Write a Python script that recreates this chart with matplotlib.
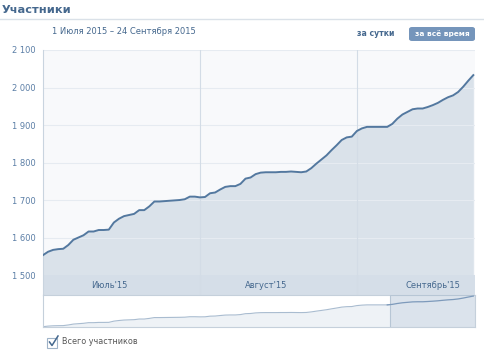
# VK community stats: total members, 1 Jul - 24 Sep 2015

import matplotlib.pyplot as plt
import matplotlib.dates as mdates
from matplotlib.patches import FancyBboxPatch, Rectangle
import pandas as pd

# Data
dates = pd.date_range('2015-07-01', '2015-09-24', freq='D')
members = [1553, 1562, 1567, 1569, 1570, 1580, 1594, 1600, 1606, 1616,
           1616, 1620, 1620, 1621, 1640, 1650, 1657, 1660, 1663, 1673,
           1673, 1683, 1696, 1696, 1697, 1698, 1699, 1700, 1702, 1709,
           1709, 1707, 1708, 1718, 1720, 1728, 1735, 1737, 1737, 1743,
           1757, 1760, 1769, 1773, 1774, 1774, 1774, 1775, 1775, 1776,
           1775, 1774, 1776, 1785, 1797, 1808, 1819, 1833, 1846, 1860,
           1867, 1869, 1884, 1891, 1895, 1895, 1895, 1895, 1895, 1903,
           1917, 1928, 1935, 1942, 1944, 1944, 1948, 1953, 1959, 1967,
           1974, 1979, 1988, 2002, 2018, 2033]
y_ticks = [1500, 1600, 1700, 1800, 1900, 2000, 2100]
month_starts = ['2015-08-01', '2015-09-01']
month_names = ["Июль'15", "Август'15", "Сентябрь'15"]
month_label_dates = ['2015-07-14', '2015-08-14', '2015-09-16']

W, H = 485, 357
blue = '#45688e'
line_col = '#53789f'
fill_col = '#dae2ea'


def box(x0, y0, x1, y1):
    # pixel box (top-left origin) -> figure fraction rect
    return [x0 / W, 1 - y1 / H, (x1 - x0) / W, (y1 - y0) / H]


fig = plt.figure(figsize=(W / 100, H / 100), dpi=100, facecolor='white')

# Header
fig.text(2 / W, 1 - 10 / H, 'Участники', fontsize=8.2, fontweight='bold',
         color=blue, va='center')
fig.add_artist(plt.Line2D([0, 1], [1 - 18.5 / H] * 2, color='#dae1e8', lw=1))
fig.text(52 / W, 1 - 32 / H, '1 Июля 2015 – 24 Сентября 2015', fontsize=6,
         color=blue, va='center')
fig.text(376 / W, 1 - 34 / H, 'за сутки', fontsize=5.6, fontweight='bold',
         color=blue, va='center', ha='center')
fig.add_artist(FancyBboxPatch((409 / W, 1 - 41 / H), 66 / W, 14 / H,
                              boxstyle='round,pad=0,rounding_size=0.006',
                              transform=fig.transFigure, fc='#7595bb', ec='none'))
fig.text(442 / W, 1 - 34 / H, 'за всё время', fontsize=5.3, fontweight='bold',
         color='white', va='center', ha='center')

# Main chart
ax = fig.add_axes(box(43, 50, 475, 295))
x_end = dates[-1] + pd.Timedelta(hours=8)
ylo = 1446.7
ax.set_xlim(dates[0], x_end)
ax.set_ylim(ylo, 2100)
ax.set_facecolor('#f8f9fb')
ax.fill_between(dates, members, ylo, color=fill_col, lw=0, zorder=1)
ax.plot(dates, members, color=line_col, lw=1.4, zorder=3)
ax.axhspan(ylo, 1500, color='#d5dee8', lw=0, zorder=2)
for v in y_ticks:
    ax.axhline(v, color='#e6ebf1', lw=0.8, zorder=1.5)
for d in month_starts:
    ax.axvline(pd.Timestamp(d), color='#d3dce6', lw=0.8, zorder=2.5)
for d, name in zip(month_label_dates, month_names):
    ax.text(pd.Timestamp(d), (ylo + 1500) / 2 - 2, name, fontsize=6,
            color=blue, ha='center', va='center', zorder=4)
ax.set_yticks(y_ticks)
ax.set_yticklabels([f'{v:,}'.replace(',', ' ') for v in y_ticks])
ax.tick_params(axis='y', length=0, labelsize=6, labelcolor='#5b7ea6', pad=5)
ax.set_xticks([])
for s in ['top', 'right', 'bottom']:
    ax.spines[s].set_visible(False)
ax.spines['left'].set_color('#c9d4df')
ax.spines['left'].set_linewidth(0.8)

# Navigator
nav = fig.add_axes(box(43, 295, 475, 327))
nav.set_xlim(dates[0], x_end)
nav.set_ylim(1548, 2050)
nav.set_facecolor('white')
nav.fill_between(dates, members, 1548, color='#eef2f6', lw=0)
nav.plot(dates, members, color='#a9bcd0', lw=0.8)
sel_start = mdates.date2num(pd.Timestamp('2015-09-07 14:00'))
nav.add_patch(Rectangle((sel_start, 1548), mdates.date2num(x_end) - sel_start, 502,
                        fc='#dbe3ec', ec='#b7c6d5', lw=0.8, zorder=3))
sel = dates >= pd.Timestamp('2015-09-07')
nav.plot(dates[sel], [m for m, s in zip(members, sel) if s],
         color='#7d9abb', lw=0.9, zorder=4)
nav.set_xticks([])
nav.set_yticks([])
for s in nav.spines.values():
    s.set_color('#c5d0db')
    s.set_linewidth(0.8)

# Legend checkbox
fig.add_artist(Rectangle((47.5 / W, 1 - 347.5 / H), 10 / W, 10 / H,
                         transform=fig.transFigure, fc='white', ec='#9fb3c8', lw=0.8))
fig.add_artist(plt.Line2D([49.5 / W, 52 / W, 58 / W],
                          [1 - 342 / H, 1 - 345.5 / H, 1 - 336 / H],
                          color=blue, lw=1.1))
fig.text(62 / W, 1 - 342 / H, 'Всего участников', fontsize=5.8,
         color='#555555', va='center')

plt.savefig('out.png', dpi=100, facecolor='white')
